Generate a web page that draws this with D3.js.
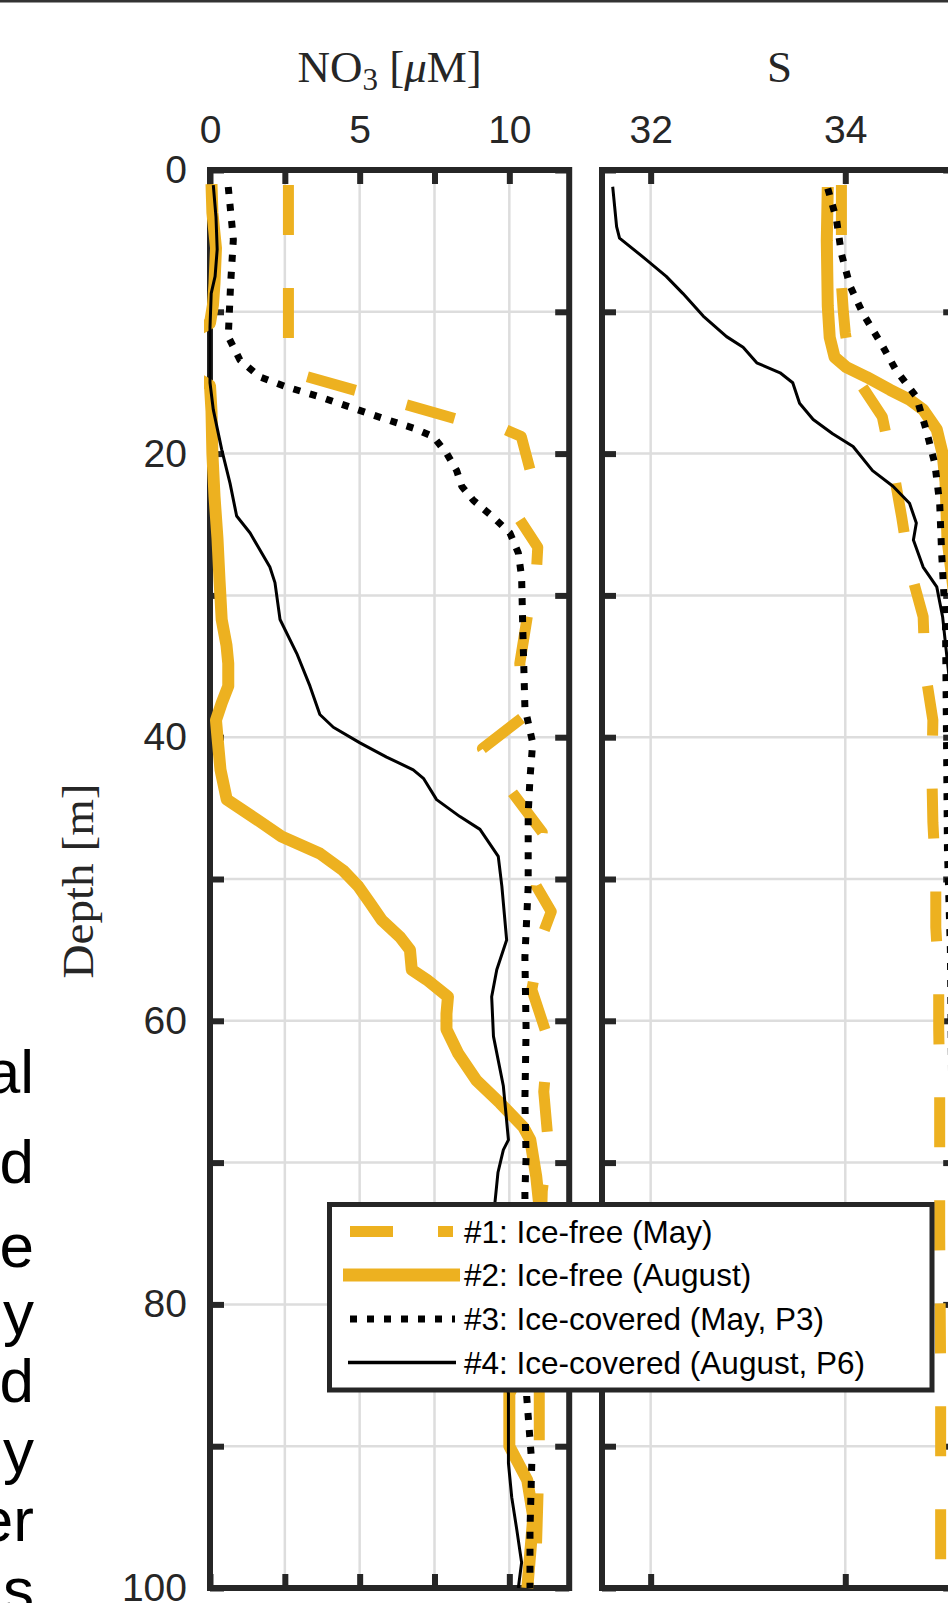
<!DOCTYPE html>
<html>
<head>
<meta charset="utf-8">
<script src="https://cdn.jsdelivr.net/npm/d3@7/dist/d3.min.js"></script>
<style>
html,body{margin:0;padding:0;background:#fff;overflow:hidden;}
svg{display:block;}
</style>
</head>
<body>
<svg id="chart" width="948" height="1603"></svg>
<script>
// ---------------- data ----------------
const depthTicks = [0,10,20,30,40,50,60,70,80,90,100];
const depthTickLabels = [0,20,40,60,80,100];
const no3Ticks = [0,2.5,5,7.5,10];
const no3TickLabels = [0,5,10];
const salTicks = [32,34,36];
const salTickLabels = [32,34];

const seriesLabels = ["#1: Ice-free (May)", "#2: Ice-free (August)", "#3: Ice-covered (May, P3)", "#4: Ice-covered (August, P6)"];

// NO3 profiles (depth m, value uM)
const no3Depth1 = [1.06,14.2,17.6,18.3,18.8,21.2,23.3,24.5,26.6,28.5,31.5,34.8,38.6,40.8,43.9,46.7,50.5,52.3,54.0,57.8,61.3,65.0,68.6,72.0,80.0,86.7,90.0,94.0,97.5,100];
const no3Value1 = [2.62,2.62,8.3,9.86,10.4,10.7,10.4,10.3,10.95,10.9,10.6,10.35,10.45,9.1,10.1,11.1,10.9,11.4,11.1,10.75,11.3,11.15,11.3,11.1,11.0,11.0,11.0,10.95,10.9,10.85];

const no3Depth2 = [1.0,3.0,5.5,8.0,9.5,10.8,11.5,14.5,15.2,17,20,23,26,29,31.7,33.5,34.8,36.4,37.6,38.8,40,42.3,44.4,45.8,47,48.2,49.4,50.5,51.7,52.9,54.1,55,56.4,57.1,58.3,59.5,60.6,62.3,64.2,65.8,67.5,68.4,71,73,76,80,84,86.3,90,92.4,95,97.5,100];
const no3Value2 = [0.05,0.08,0.2,0.15,0.1,0.0,-0.6,-0.6,0.0,0.05,0.08,0.15,0.25,0.32,0.39,0.55,0.61,0.61,0.39,0.2,0.25,0.35,0.56,1.56,2.39,3.67,4.45,4.95,5.35,5.74,6.35,6.68,6.74,7.24,7.95,7.9,7.9,8.29,8.9,9.69,10.47,10.7,10.9,11.0,11.0,10.9,10.5,10.0,10.0,10.6,10.8,10.7,10.6];

const no3Depth3 = [1.2,4.9,8,11.75,13.4,14.6,15.3,16.0,16.8,17.6,18.2,18.8,20.0,21.2,22.3,23.3,24.5,25.6,27.0,28.7,32.4,37.9,40.4,42.9,45.4,50.5,55.5,60.6,65.6,69.6,72.1,80,86.5,91.2,95.9,100];
const no3Value3 = [0.61,0.78,0.69,0.61,1.0,1.67,2.56,3.67,4.79,5.9,6.79,7.46,7.91,8.24,8.41,8.8,9.47,10.02,10.3,10.41,10.45,10.52,10.78,10.69,10.63,10.63,10.52,10.56,10.52,10.56,10.52,10.55,10.58,10.75,10.69,10.69];

const no3Depth4 = [1.06,3.3,5.6,7.5,8.7,11.1,15,16.9,19.7,22.1,24.4,25.6,28,29.1,31.7,34.1,36.4,38.4,39.3,40.4,41.4,42.3,42.9,44.4,45.6,46.5,48.4,50.5,54.3,56.4,58.3,61.1,64.6,68.4,69.1,70.7,72.8,76,82,86.3,91.2,93.6,95.9,98.2,100];
const no3Value4 = [0.11,0.2,0.24,0.17,0.04,0,0,0.11,0.39,0.67,0.89,1.34,2.0,2.17,2.34,2.9,3.34,3.67,4.12,5.01,5.9,6.79,7.13,7.57,8.35,9.02,9.63,9.75,9.91,9.58,9.41,9.47,9.8,9.97,9.8,9.62,9.52,9.5,9.7,9.97,9.97,10.08,10.25,10.41,10.3];

// Salinity profiles (depth m, S)
const salDepth1 = [1.06,8,10,11.5,13.5,14.6,17.4,21,24.5,28,31.5,35.3,38.8,42.5,46,49.9,53.4,57,60.6,64.4,67.9,75,85,92,100];
const salValue1 = [33.96,33.96,33.98,34.0,34.05,34.11,34.38,34.49,34.58,34.66,34.8,34.82,34.9,34.89,34.9,34.93,34.93,34.96,34.96,34.97,34.97,34.97,34.98,34.98,34.98];

const salDepth2 = [1.2,5,9.6,11.8,13.2,13.9,14.6,15.5,16.2,16.9,18.3,20,22,26,30,40,60,80,100];
const salValue2 = [33.82,33.81,33.82,33.84,33.89,34.01,34.22,34.46,34.66,34.8,34.94,35.0,35.03,35.05,35.12,35.15,35.15,35.15,35.15];

const salDepth3 = [1.3,3.5,5.9,8.2,10.1,12.5,14.1,16,18.3,20.7,23.5,27,32,40,48,55,70,100];
const salValue3 = [33.82,33.91,33.96,34.05,34.18,34.39,34.52,34.73,34.83,34.92,34.97,34.99,35.03,35.04,35.05,35.08,35.1,35.1];

const salDepth4 = [1.18,4.0,4.8,6.35,7.5,8.7,10.3,11.75,12.5,13.6,14.3,15.0,16.45,17.6,18.6,19.5,21.2,22.3,23.5,24.9,26.1,28.0,29.4,31.5,36,45,60,80,100];
const salValue4 = [31.61,31.65,31.68,31.96,32.16,32.33,32.54,32.78,32.95,33.09,33.33,33.46,33.53,33.67,33.87,34.08,34.28,34.49,34.66,34.73,34.7,34.8,34.94,35.0,35.07,35.1,35.12,35.12,35.12];

// clipped words from the neighbouring paragraph
const marginText = ["al","d","e","y","d","y","er","s"];

// ---------------- layout / style ----------------
const W = 948, H = 1603;
const plotTop = 170, plotBottom = 1588;
const L = {x0: 210, x1: 569.2};
const R = {x0: 602, x1: 957.2};
const frameColor = "#262626";
const gridColor = "#dddddd";
const yellow = "#EDB120";
const sans = "'Liberation Sans', Arial, Helvetica, sans-serif";
const serif = "'Liberation Serif', 'Times New Roman', serif";
const tickFont = 39;
const marginBaselines = [1093,1183,1267,1334,1402,1472,1541,1611];

const seriesStyle = [
  {color: yellow, width: 11, dash: "50 53", cap: "butt"},
  {color: yellow, width: 12, dash: null, cap: "butt"},
  {color: "#000", width: 7, dash: "7 10", cap: "butt"},
  {color: "#000", width: 3, dash: null, cap: "butt"}
];

const svg = d3.select("#chart");
svg.append("rect").attr("width", W).attr("height", H).attr("fill", "#fff");
// top border of the screenshot
svg.append("rect").attr("x", 0).attr("y", 0).attr("width", W).attr("height", 2.5).attr("fill", "#333");

const y = d3.scaleLinear().domain([0, 100]).range([plotTop, plotBottom]);
const xN = d3.scaleLinear().domain([0, 12]).range([L.x0, L.x1]);
const xS = d3.scaleLinear().domain([31.5, 35.15]).range([R.x0, R.x1]);
const intFmt = d3.format("d");

const zip = (ds, vs) => ds.map((d, i) => ({d: d, v: vs[i]}));
const no3Series = [zip(no3Depth1,no3Value1), zip(no3Depth2,no3Value2), zip(no3Depth3,no3Value3), zip(no3Depth4,no3Value4)];
const salSeries = [zip(salDepth1,salValue1), zip(salDepth2,salValue2), zip(salDepth3,salValue3), zip(salDepth4,salValue4)];

const defs = svg.append("defs");

function panel(id, x, xTicks, xLabels, series, showYLabels) {
  const g = svg.append("g").attr("id", id);
  const [x0, x1] = x.range();
  // grid
  g.append("g").selectAll("line.v").data(xTicks).join("line")
    .attr("x1", d => x(d)).attr("x2", d => x(d))
    .attr("y1", plotTop).attr("y2", plotBottom)
    .attr("stroke", gridColor).attr("stroke-width", 2.5);
  g.append("g").selectAll("line.h").data(depthTicks).join("line")
    .attr("x1", x0).attr("x2", x1)
    .attr("y1", d => y(d)).attr("y2", d => y(d))
    .attr("stroke", gridColor).attr("stroke-width", 2.5);

  // tick marks via d3 axes (inward)
  const tickLen = 14;
  const styleTicks = sel => {
    sel.select(".domain").remove();
    sel.selectAll(".tick line").attr("stroke", frameColor).attr("stroke-width", 6);
    sel.selectAll(".tick text").remove();
  };
  g.append("g").attr("transform", `translate(0,${plotTop})`)
    .call(d3.axisTop(x).tickValues(xTicks).tickSize(-tickLen)).call(styleTicks);
  g.append("g").attr("transform", `translate(0,${plotBottom})`)
    .call(d3.axisBottom(x).tickValues(xTicks).tickSize(-tickLen)).call(styleTicks);
  g.append("g").attr("transform", `translate(${x0},0)`)
    .call(d3.axisLeft(y).tickValues(depthTicks).tickSize(-tickLen)).call(styleTicks);
  g.append("g").attr("transform", `translate(${x1},0)`)
    .call(d3.axisRight(y).tickValues(depthTicks).tickSize(-tickLen)).call(styleTicks);

  // frame
  g.append("rect").attr("x", x0).attr("y", plotTop)
    .attr("width", x1 - x0).attr("height", plotBottom - plotTop)
    .attr("fill", "none").attr("stroke", frameColor).attr("stroke-width", 6);

  // x tick labels
  const xl = g.append("g").attr("transform", `translate(0,${plotTop})`)
    .call(d3.axisTop(x).tickValues(xLabels).tickFormat(intFmt).tickSize(0).tickPadding(27));
  xl.select(".domain").remove();
  xl.selectAll("text").attr("font-family", sans).attr("font-size", tickFont).attr("fill", frameColor);

  if (showYLabels) {
    const yl = g.append("g").attr("transform", `translate(${x0},0)`)
      .call(d3.axisLeft(y).tickValues(depthTickLabels).tickFormat(intFmt).tickSize(0).tickPadding(23));
    yl.select(".domain").remove();
    yl.selectAll("text").attr("font-family", sans).attr("font-size", tickFont).attr("fill", frameColor);
  }

  // data lines
  const cid = "clip-" + id;
  defs.append("clipPath").attr("id", cid).append("rect")
    .attr("x", x0 - 6).attr("y", plotTop - 6)
    .attr("width", x1 - x0 + 12).attr("height", plotBottom - plotTop + 12);
  const line = d3.line().x(p => x(p.v)).y(p => y(p.d));
  const lg = g.append("g").attr("clip-path", `url(#${cid})`);
  [1, 0, 2, 3].forEach(i => {
    const s = seriesStyle[i];
    lg.append("path").datum(series[i]).attr("d", line)
      .attr("fill", "none").attr("stroke", s.color).attr("stroke-width", s.width)
      .attr("stroke-dasharray", s.dash).attr("stroke-linecap", s.cap)
      .attr("stroke-linejoin", "round");
  });
  return g;
}

panel("no3", xN, no3Ticks, no3TickLabels, no3Series, true);
panel("sal", xS, salTicks, salTickLabels, salSeries, false);

// axis titles
const t1 = svg.append("text").attr("x", (L.x0 + L.x1) / 2).attr("y", 82)
  .attr("text-anchor", "middle").attr("font-family", serif).attr("font-size", 45).attr("fill", frameColor);
t1.append("tspan").text("NO");
t1.append("tspan").attr("font-size", 31).attr("dy", 8).text("3");
t1.append("tspan").attr("dy", -8).text("\u00A0[");
t1.append("tspan").attr("font-style", "italic").text("\u03BC");
t1.append("tspan").text("M]");

svg.append("text").attr("x", (R.x0 + R.x1) / 2).attr("y", 82)
  .attr("text-anchor", "middle").attr("font-family", serif).attr("font-size", 45).attr("fill", frameColor)
  .text("S");

svg.append("text").attr("transform", "translate(93,881) rotate(-90)")
  .attr("text-anchor", "middle").attr("font-family", serif).attr("font-size", 45).attr("fill", frameColor)
  .attr("textLength", 195).attr("lengthAdjust", "spacingAndGlyphs")
  .text("Depth [m]");

// legend
const leg = svg.append("g");
leg.append("rect").attr("x", 329.5).attr("y", 1204.5).attr("width", 602.5).attr("height", 185.5)
  .attr("fill", "#fff").attr("stroke", frameColor).attr("stroke-width", 5);
const rowY = [1231.5, 1275, 1319, 1362.5];
const sampleX = [[350, 453], [343, 460], [350, 455], [348, 456]];
const legendDash = ["43 45", null, "7 10", null];
seriesLabels.forEach((lab, i) => {
  const s = seriesStyle[i];
  leg.append("line").attr("x1", sampleX[i][0]).attr("x2", sampleX[i][1])
    .attr("y1", rowY[i]).attr("y2", rowY[i])
    .attr("stroke", s.color).attr("stroke-width", i === 1 ? 13 : (i === 3 ? 3.5 : s.width))
    .attr("stroke-dasharray", legendDash[i]);
  leg.append("text").attr("x", 464).attr("y", rowY[i] + 11)
    .attr("font-family", sans).attr("font-size", 31.5).attr("fill", "#000").text(lab);
});

// clipped neighbouring text
svg.append("g").selectAll("text").data(marginText).join("text")
  .attr("x", 34).attr("y", (d, i) => marginBaselines[i])
  .attr("text-anchor", "end").attr("font-family", sans).attr("font-size", 62).attr("fill", "#000")
  .text(d => d);
</script>
</body>
</html>
